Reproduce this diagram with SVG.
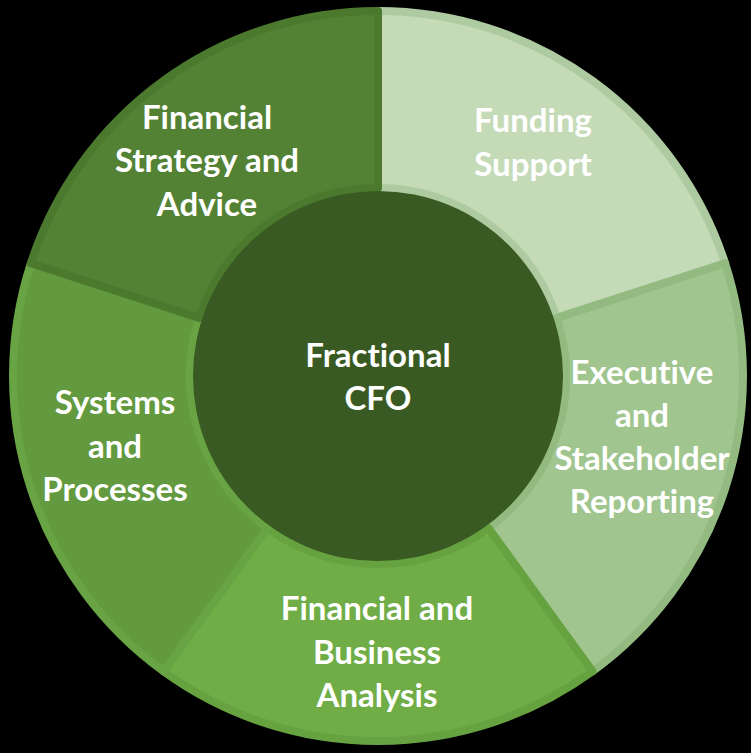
<svg xmlns="http://www.w3.org/2000/svg" width="751" height="753" viewBox="0 0 751 753">
<style>
.seg{stroke-width:8;stroke-linejoin:round}
.lbl{font-family:Lato,"Open Sans","Liberation Sans",sans-serif;font-weight:bold;font-size:33px;fill:#ffffff;text-anchor:middle;font-variant-ligatures:none;font-feature-settings:"liga" 0}
</style>
<rect width="751" height="753" fill="#000000"/>
<g id="funding">
<path class="seg" d="M378 11 A365 365 0 0 1 725.1 263.2 L556.8 317.9 A188 188 0 0 0 378 188 Z" fill="#C5DBB8" stroke="#AECAA0"/>
<text class="lbl" x="533" y="132">Funding</text>
<text class="lbl" x="533" y="176">Support</text>
</g>
<g id="executive">
<path class="seg" d="M725.1 263.2 A365 365 0 0 1 592.5 671.3 L488.5 528.1 A188 188 0 0 0 556.8 317.9 Z" fill="#A0C58E" stroke="#93BB81"/>
<text class="lbl" x="642" y="384">Executive</text>
<text class="lbl" x="642" y="427">and</text>
<text class="lbl" x="642" y="470">Stakeholder</text>
<text class="lbl" x="642" y="513">Reporting</text>
</g>
<g id="analysis">
<path class="seg" d="M592.5 671.3 A365 365 0 0 1 163.5 671.3 L267.5 528.1 A188 188 0 0 0 488.5 528.1 Z" fill="#70AD47" stroke="#67A241"/>
<text class="lbl" x="377" y="620">Financial and</text>
<text class="lbl" x="377" y="664">Business</text>
<text class="lbl" x="377" y="707">Analysis</text>
</g>
<g id="systems">
<path class="seg" d="M163.5 671.3 A365 365 0 0 1 30.9 263.2 L199.2 317.9 A188 188 0 0 0 267.5 528.1 Z" fill="#63993F" stroke="#68A444"/>
<text class="lbl" x="115" y="414">Systems</text>
<text class="lbl" x="115" y="458">and</text>
<text class="lbl" x="115" y="501">Processes</text>
</g>
<g id="strategy">
<path class="seg" d="M30.9 263.2 A365 365 0 0 1 378 11 L378 188 A188 188 0 0 0 199.2 317.9 Z" fill="#548235" stroke="#4B7A2E"/>
<text class="lbl" x="207" y="129">Financial</text>
<text class="lbl" x="207" y="172">Strategy and</text>
<text class="lbl" x="207" y="216">Advice</text>
</g>
<g id="center">
<circle cx="378" cy="376" r="185" fill="#3A5A23"/>
<text class="lbl" x="378" y="367">Fractional</text>
<text class="lbl" x="378" y="410">CFO</text>
</g>
</svg>
